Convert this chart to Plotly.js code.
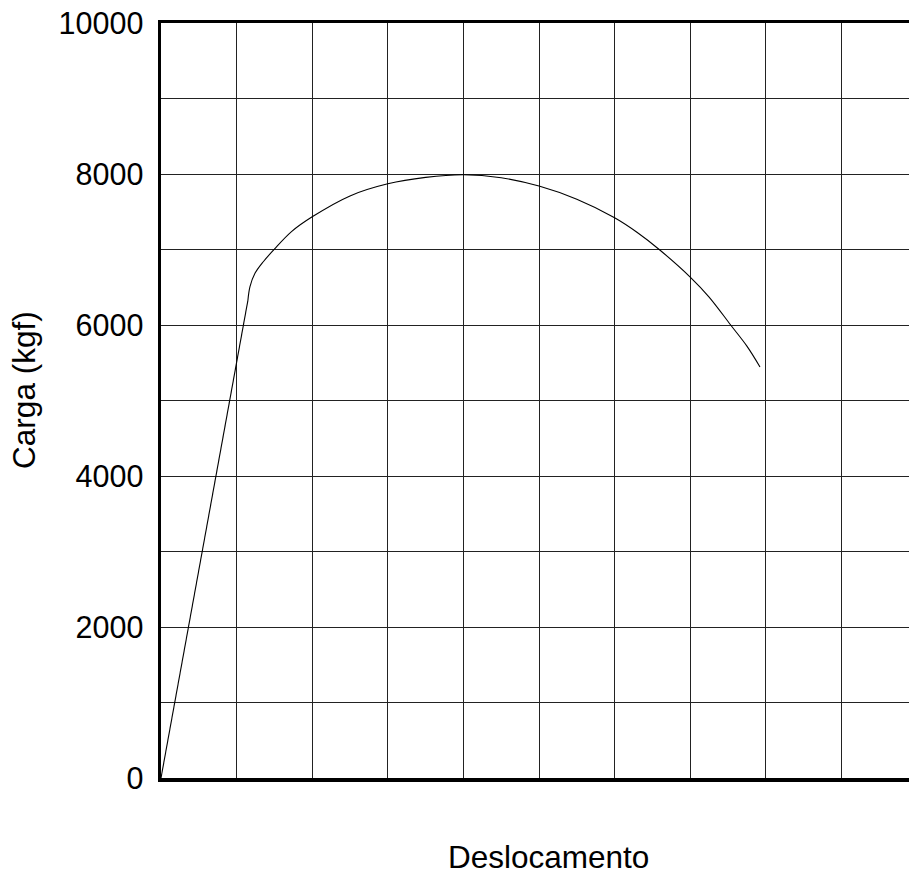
<!DOCTYPE html>
<html>
<head>
<meta charset="utf-8">
<script src="https://cdn.plot.ly/plotly-3.0.1.min.js"></script>
<style>html,body{margin:0;padding:0;overflow:hidden;background:#fff;}</style>
</head>
<body>
<div id="chart" style="width:909px;height:875px;"></div>
<script>
// Elastic (linear) part: displacement / load (kgf)
var deslocamentoElastico = [0, 1.15];
var cargaElastica        = [0, 6330];
// Plastic (curved) part: displacement / load (kgf)
var deslocamentoPlastico = [1.15, 1.177, 1.243, 1.353, 1.5, 1.73, 2.0, 2.5, 3.0, 3.5, 4.0, 4.5, 5.0, 5.5, 6.0, 6.3, 6.59, 7.0, 7.25, 7.535, 7.75, 7.923];
var cargaPlastica        = [6330, 6507, 6684, 6838, 7005, 7240, 7433, 7710, 7870, 7955, 7990, 7950, 7840, 7665, 7420, 7225, 7000, 6635, 6370, 6000, 5720, 5444];

var yTickVals  = [0, 1000, 2000, 3000, 4000, 5000, 6000, 7000, 8000, 9000, 10000];
var yTickText  = ['0', '', '2000', '', '4000', '', '6000', '', '8000', '', '10000'];
var xGridVals  = [0, 1, 2, 3, 4, 5, 6, 7, 8, 9, 10];

var FONT = '"Liberation Sans", Arial, sans-serif';

var traces = [
  {
    x: deslocamentoElastico, y: cargaElastica,
    type: 'scatter', mode: 'lines',
    line: {color: '#000', width: 1.1},
    hoverinfo: 'skip'
  },
  {
    x: deslocamentoPlastico, y: cargaPlastica,
    type: 'scatter', mode: 'lines',
    line: {color: '#000', width: 1.1, shape: 'spline', smoothing: 1},
    hoverinfo: 'skip'
  }
];

var layout = {
  width: 909,
  height: 875,
  margin: {l: 161, r: 0, t: 23, b: 97},
  paper_bgcolor: '#fff',
  plot_bgcolor: '#fff',
  showlegend: false,
  font: {family: FONT, color: '#000'},
  xaxis: {
    range: [0, 9.894],
    tickmode: 'array',
    tickvals: xGridVals,
    showticklabels: false,
    ticks: '',
    showgrid: true,
    gridcolor: '#222',
    gridwidth: 1,
    zeroline: false,
    showline: true,
    linecolor: '#000',
    linewidth: 3.5,
    mirror: true,
    fixedrange: true
  },
  yaxis: {
    range: [0, 10000],
    tickmode: 'array',
    tickvals: yTickVals,
    ticktext: yTickText,
    ticks: '',
    ticklabelstandoff: 8,
    tickfont: {family: FONT, size: 30.5, color: '#000'},
    showgrid: true,
    gridcolor: '#222',
    gridwidth: 1,
    zeroline: false,
    showline: true,
    linecolor: '#000',
    linewidth: 3.5,
    mirror: false,
    fixedrange: true
  },
  annotations: [
    {
      text: 'Deslocamento',
      xref: 'paper', yref: 'paper',
      x: 0.5187, y: -0.1046,
      xanchor: 'center', yanchor: 'middle',
      showarrow: false,
      font: {family: FONT, size: 31.5, color: '#000'}
    },
    {
      text: 'Carga (kgf)',
      xref: 'paper', yref: 'paper',
      x: -0.1832, y: 0.514,
      xanchor: 'center', yanchor: 'middle',
      textangle: -90,
      showarrow: false,
      font: {family: FONT, size: 31.5, color: '#000'}
    }
  ]
};

Plotly.newPlot('chart', traces, layout, {displayModeBar: false, staticPlot: true});
</script>
</body>
</html>
